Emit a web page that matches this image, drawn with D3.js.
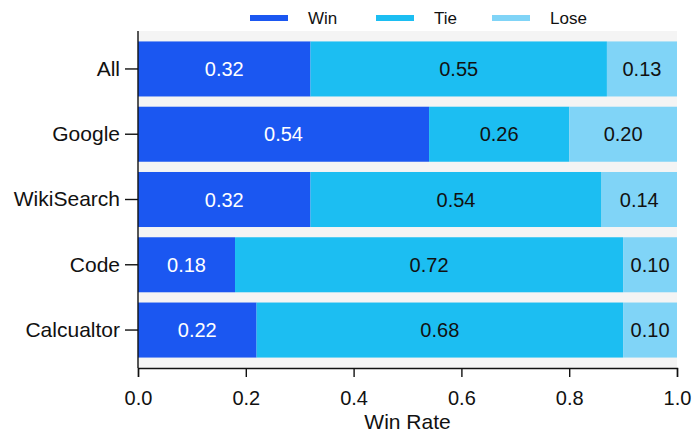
<!DOCTYPE html>
<html>
  <head>
    <meta charset="utf-8">
    <script src="https://cdn.jsdelivr.net/npm/d3@7"></script>
    <style>
      body { margin: 0; background: #fff; }
      text { font-family: "Liberation Sans", Arial, sans-serif; }
    </style>
  </head>
  <body>
    <script type="text/javascript">
      // data
      var categories = ["All", "Google", "WikiSearch", "Code", "Calcualtor"];
      var winVals  = [0.32, 0.54, 0.32, 0.18, 0.22];
      var tieVals  = [0.55, 0.26, 0.54, 0.72, 0.68];
      var loseVals = [0.13, 0.20, 0.14, 0.10, 0.10];
      var seriesNames = ["Win", "Tie", "Lose"];
      var xTicks = [0, 0.2, 0.4, 0.6, 0.8, 1.0];

      var colors = ["#1b57f1", "#1cbef2", "#80d4f7"];
      var textColors = ["#fff", "#111", "#111"];

      var width = 694, height = 434;
      // note: "top" is reserved on window, so use plot* names
      var plotLeft = 138, plotRight = 677, plotTop = 31, plotBottom = 368;

      var svg = d3.select("body").append("svg")
          .attr("width", width)
          .attr("height", height);

      // plot background
      svg.append("rect")
          .attr("x", plotLeft).attr("y", plotTop)
          .attr("width", plotRight - plotLeft).attr("height", plotBottom - plotTop)
          .attr("fill", "#f4f4f4");

      var x = d3.scaleLinear().domain([0, 1]).range([plotLeft, plotRight]);
      var y = d3.scaleBand().domain(categories).range([plotTop, plotBottom])
          .paddingInner(0.157).paddingOuter(0.16);

      var rows = categories.map(function (c, i) {
        return { cat: c, Win: winVals[i], Tie: tieVals[i], Lose: loseVals[i] };
      });
      var stacked = d3.stack().keys(seriesNames)(rows);

      var groups = svg.selectAll("g.series")
          .data(stacked)
          .enter().append("g")
          .attr("class", "series");

      groups.each(function (s, si) {
        var g = d3.select(this);
        g.selectAll("rect")
            .data(s)
            .enter().append("rect")
            .attr("x", function (d) { return x(d[0]); })
            .attr("y", function (d) { return y(d.data.cat); })
            .attr("width", function (d) { return x(d[1]) - x(d[0]); })
            .attr("height", y.bandwidth())
            .attr("fill", colors[si]);
        g.selectAll("text.val")
            .data(s)
            .enter().append("text")
            .attr("class", "val")
            .attr("x", function (d) { return x((d[0] + d[1]) / 2); })
            .attr("y", function (d) { return y(d.data.cat) + y.bandwidth() / 2; })
            .attr("dy", "0.36em")
            .attr("text-anchor", "middle")
            .style("font-size", "20px")
            .attr("fill", textColors[si])
            .text(function (d) { return d3.format(".2f")(d[1] - d[0]); });
      });

      // axes
      var xAxis = svg.append("g")
          .attr("transform", "translate(0," + plotBottom + ")")
          .call(d3.axisBottom(x).tickValues(xTicks).tickFormat(d3.format(".1f"))
                .tickSize(9).tickSizeOuter(9).tickPadding(14));
      xAxis.selectAll("text").style("font-size", "20px").attr("fill", "#111");
      xAxis.selectAll("line,path").attr("stroke", "#111").attr("stroke-width", 1.4);

      var yAxis = svg.append("g")
          .attr("transform", "translate(" + plotLeft + ",0)")
          .call(d3.axisLeft(y).tickSize(13).tickSizeOuter(0).tickPadding(5));
      yAxis.select("path").attr("d", "M0," + plotTop + "V" + plotBottom);
      yAxis.selectAll("text").style("font-size", "21px").attr("fill", "#111");
      yAxis.selectAll("line,path").attr("stroke", "#111").attr("stroke-width", 1.4);

      svg.append("text")
          .attr("x", (plotLeft + plotRight) / 2)
          .attr("y", 429)
          .attr("text-anchor", "middle")
          .style("font-size", "21px")
          .attr("fill", "#111")
          .text("Win Rate");

      // legend
      var legendX = [250, 376, 492];
      var legend = svg.selectAll("g.legend")
          .data(seriesNames)
          .enter().append("g")
          .attr("class", "legend")
          .attr("transform", function (d, i) { return "translate(" + legendX[i] + ",18)"; });
      legend.append("rect")
          .attr("x", 0).attr("y", -3)
          .attr("width", 38).attr("height", 6)
          .attr("fill", function (d, i) { return colors[i]; });
      legend.append("text")
          .attr("x", 58).attr("y", 0)
          .attr("dy", "0.36em")
          .style("font-size", "17px")
          .attr("fill", "#111")
          .text(function (d) { return d; });
    </script>
  </body>
</html>
